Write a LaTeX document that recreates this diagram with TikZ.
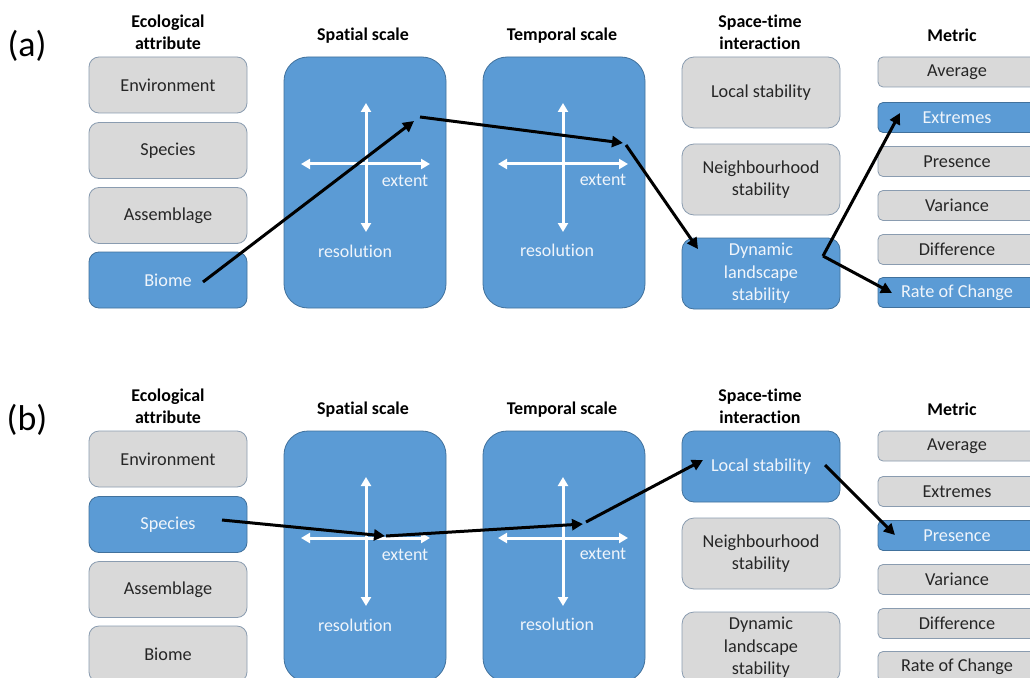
\documentclass[tikz,border=0pt]{standalone}
\usepackage{fontspec}
\setmainfont{Carlito}[Ligatures=NoCommon]
\usetikzlibrary{arrows.meta}
\definecolor{bfill}{HTML}{5B9BD5}
\definecolor{bdraw}{HTML}{41719C}
\definecolor{gfill}{HTML}{D9D9D9}
\definecolor{gdraw}{HTML}{8A9CB0}
\definecolor{txt}{HTML}{262626}
\definecolor{wtxt}{HTML}{F0F5FB}
\tikzset{
 box/.style={draw=gdraw, fill=gfill, line width=0.8bp, text=txt, font=\fontsize{18.3}{22.5}\selectfont, align=center, inner sep=0pt},
 eco/.style={box, rounded corners=10bp, minimum width=158bp, minimum height=56bp},
 big/.style={draw=bdraw, fill=bfill, line width=0.8bp, rounded corners=24bp, minimum width=162bp, minimum height=251bp},
 stb/.style={box, rounded corners=12bp, minimum width=158bp, minimum height=71bp},
 met/.style={box, rounded corners=5bp, minimum width=158bp, minimum height=30bp},
 hl/.style={draw=bdraw, fill=bfill, text=wtxt},
 hdr/.style={font=\fontsize{18}{22}\selectfont\bfseries, align=center, text=black},
 wlab/.style={text=wtxt, font=\fontsize{18}{20}\selectfont},
 warr/.style={white, line width=3bp, {Triangle[length=9bp,width=10bp]}-{Triangle[length=9bp,width=10bp]}},
 conn/.style={black, line width=3bp, -{Triangle[length=11bp,width=11bp]}},
 selEnv/.style={}, selSpe/.style={}, selAss/.style={}, selBio/.style={},
 selLoc/.style={}, selNei/.style={}, selDyn/.style={},
 selAvg/.style={}, selExt/.style={}, selPre/.style={}, selVar/.style={}, selDif/.style={}, selRat/.style={},
}
\newcommand\drawpanel[2]{%
 \node[font=\fontsize{36}{36}\selectfont, text=black] (#1lab) at (27,46) {#2};
 \node[hdr] (#1h1) at (168,32) {Ecological\\attribute};
 \node[hdr] (#1h2) at (363,36) {Spatial scale};
 \node[hdr] (#1h3) at (562,36) {Temporal scale};
 \node[hdr] (#1h4) at (760,32) {Space-time\\interaction};
 \node[hdr] (#1h5) at (952,35) {Metric};
 \node[eco, selEnv] (#1env) at (168,85) {Environment};
 \node[eco, selSpe] (#1spe) at (168,150.5) {Species};
 \node[eco, selAss] (#1ass) at (168,215.5) {Assemblage};
 \node[eco, selBio] (#1bio) at (168,280) {Biome};
 \node[big] (#1sp) at (365,182.5) {};
 \node[big] (#1tp) at (564,182.5) {};
 \coordinate (#1spT) at (366,103); \coordinate (#1spB) at (366,232);
 \coordinate (#1spL) at (301,164); \coordinate (#1spR) at (430,164);
 \coordinate (#1tpT) at (563,103); \coordinate (#1tpB) at (563,232);
 \coordinate (#1tpL) at (498,164); \coordinate (#1tpR) at (628,164);
 \draw[warr] (#1spT) -- (#1spB);
 \draw[warr] (#1spL) -- (#1spR);
 \draw[warr] (#1tpT) -- (#1tpB);
 \draw[warr] (#1tpL) -- (#1tpR);
 \node[wlab] (#1spe1) at (405,181) {extent};
 \node[wlab] (#1spr1) at (355,251) {resolution};
 \node[wlab] (#1tpe1) at (603,180) {extent};
 \node[wlab] (#1tpr1) at (557,250) {resolution};
 \node[stb, selLoc] (#1loc) at (761,92.5) {Local stability};
 \node[stb, selNei] (#1nei) at (761,179.5) {Neighbourhood\\stability};
 \node[stb, selDyn] (#1dyn) at (761,273.5) {Dynamic\\landscape\\stability};
 \node[met, selAvg] (#1avg) at (957,72) {Average};
 \node[met, selExt] (#1ext) at (957,117.5) {Extremes};
 \node[met, selPre] (#1pre) at (957,161.5) {Presence};
 \node[met, selVar] (#1var) at (957,205.5) {Variance};
 \node[met, selDif] (#1dif) at (957,249.5) {Difference};
 \node[met, selRat] (#1rat) at (957,292.5) {Rate of Change};
}
\begin{document}
\begin{tikzpicture}[x=1bp, y=-1bp]
\useasboundingbox (0,0) rectangle (1030,678);
\clip (0,0) rectangle (1030,678);
\fill[white] (0,0) rectangle (1030,678);
\begin{scope}[selBio/.style={hl}, selDyn/.style={hl}, selExt/.style={hl}, selRat/.style={hl}]
 \drawpanel{a}{(a)}
 \coordinate (a1) at (203,282); \coordinate (a2) at (414,121);
 \coordinate (a3) at (420,117); \coordinate (a4) at (623,143);
 \coordinate (a5) at (626,145); \coordinate (a6) at (698,249);
 \coordinate (a7) at (823,256); \coordinate (a8) at (900,113);
 \coordinate (a9) at (892,293);
 \draw[conn] (a1) -- (a2);
 \draw[conn] (a3) -- (a4);
 \draw[conn] (a5) -- (a6);
 \draw[conn] (a7) -- (a8);
 \draw[conn] (a7) -- (a9);
\end{scope}
\begin{scope}[yshift=-374bp, selSpe/.style={hl}, selLoc/.style={hl}, selPre/.style={hl}]
 \drawpanel{b}{(b)}
 \coordinate (b1) at (222,146); \coordinate (b2) at (385,162);
 \coordinate (b3) at (386,162); \coordinate (b4) at (583,150);
 \coordinate (b5) at (586,148); \coordinate (b6) at (703,86);
 \coordinate (b7) at (825,91); \coordinate (b8) at (895,161);
 \draw[conn] (b1) -- (b2);
 \draw[conn] (b3) -- (b4);
 \draw[conn] (b5) -- (b6);
 \draw[conn] (b7) -- (b8);
\end{scope}
\end{tikzpicture}
\end{document}
